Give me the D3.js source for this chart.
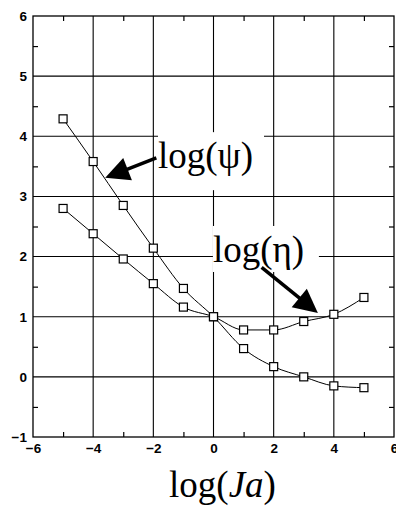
<!DOCTYPE html>
<html><head><meta charset="utf-8">
<script src="https://cdn.jsdelivr.net/npm/d3@7"></script>
<style>body{margin:0;background:#fff}svg{display:block}</style>
</head><body>
<script>
const xVals = [-5,-4,-3,-2,-1,0,1,2,3,4,5];
const psiVals = [4.29,3.58,2.85,2.14,1.47,1.0,0.47,0.17,0.0,-0.15,-0.18];
const etaVals = [2.8,2.38,1.96,1.55,1.16,1.0,0.78,0.78,0.92,1.04,1.32];
const xTicks = [-6,-4,-2,0,2,4,6];
const yTicks = [-1,0,1,2,3,4,5,6];
const xMinor = [-5,-3,-1,1,3,5];
const yMinor = [-0.5,0.5,1.5,2.5,3.5,4.5,5.5];
const labels = [
  {text:"log(ψ)", x:-1.845, y:3.47, tail:[-1.9,3.64], tip:[-3.6,3.31]},
  {text:"log(η)", x:-0.02, y:1.91, tail:[1.6,1.82], tip:[3.47,1.06]}
];

const W=396,H=517, L=33,R=394,T=16,B=437;
const svg=d3.select("body").append("svg").attr("width",W).attr("height",H);
const x=d3.scaleLinear().domain([-6,6]).range([L,R]);
const y=d3.scaleLinear().domain([-1,6]).range([B,T]);

// grid
const g=svg.append("g").attr("stroke","#000").attr("stroke-width",1.1);
g.selectAll(".vg").data(xTicks.slice(1,-1)).join("line")
  .attr("x1",d=>x(d)).attr("x2",d=>x(d)).attr("y1",T).attr("y2",B);
g.selectAll(".hg").data(yTicks.slice(1,-1)).join("line")
  .attr("y1",d=>y(d)).attr("y2",d=>y(d)).attr("x1",L).attr("x2",R);

// minor ticks
const tf="bold 13.5px 'Liberation Sans', Arial, sans-serif";
svg.append("g").attr("transform",`translate(0,${B})`)
  .call(d3.axisBottom(x).tickValues(xMinor).tickSize(-5).tickFormat(""))
  .call(a=>a.select(".domain").remove());
svg.append("g").attr("transform",`translate(0,${T})`)
  .call(d3.axisTop(x).tickValues(xMinor).tickSize(-5).tickFormat(""))
  .call(a=>a.select(".domain").remove());
svg.append("g").attr("transform",`translate(${L},0)`)
  .call(d3.axisLeft(y).tickValues(yMinor).tickSize(-5).tickFormat(""))
  .call(a=>a.select(".domain").remove());
svg.append("g").attr("transform",`translate(${R},0)`)
  .call(d3.axisRight(y).tickValues(yMinor).tickSize(-5).tickFormat(""))
  .call(a=>a.select(".domain").remove());
// labeled axes
svg.append("g").attr("transform",`translate(0,${B})`)
  .call(d3.axisBottom(x).tickValues(xTicks).tickSize(0).tickPadding(6).tickFormat(d3.format("d")))
  .call(a=>{a.select(".domain").remove();a.selectAll("text").style("font",tf).attr("fill","#000");});
svg.append("g").attr("transform",`translate(${L},0)`)
  .call(d3.axisLeft(y).tickValues(yTicks).tickSize(0).tickPadding(6).tickFormat(d3.format("d")))
  .call(a=>{a.select(".domain").remove();a.selectAll("text").style("font",tf).attr("fill","#000");});
svg.selectAll(".tick line").attr("stroke","#000").attr("stroke-width",1.2);

// frame
svg.append("rect").attr("x",L).attr("y",T).attr("width",R-L).attr("height",B-T)
  .attr("fill","none").attr("stroke","#000").attr("stroke-width",1.3);

// label boxes
const lf="'Liberation Serif','Times New Roman',serif";
const fs=37;
labels.forEach(l=>{
  svg.append("rect").attr("x",x(l.x)).attr("y",y(l.y)-36).attr("width",106).attr("height",l.y>3?58:46).attr("fill","#fff");
});

// curves
const line=d3.line().x((d,i)=>x(xVals[i])).y(d=>y(d)).curve(d3.curveMonotoneX);
[psiVals,etaVals].forEach(s=>{
  svg.append("path").attr("d",line(s)).attr("fill","none").attr("stroke","#000").attr("stroke-width",1);
  svg.append("g").selectAll("rect").data(s).join("rect")
    .attr("x",(d,i)=>x(xVals[i])-4).attr("y",d=>y(d)-4).attr("width",8).attr("height",8)
    .attr("fill","#fff").attr("stroke","#000").attr("stroke-width",1.2);
});

labels.forEach(l=>{
  svg.append("text").attr("x",x(l.x)).attr("y",y(l.y)).text(l.text)
    .attr("font-family",lf).attr("font-size",fs);
  const [tx,ty]=[x(l.tail[0]),y(l.tail[1])],[px,py]=[x(l.tip[0]),y(l.tip[1])];
  const dx=px-tx,dy=py-ty,len=Math.hypot(dx,dy),ux=dx/len,uy=dy/len;
  const hl=24,hw=12;
  const bx=px-ux*hl,by=py-uy*hl;
  svg.append("line").attr("x1",tx).attr("y1",ty).attr("x2",bx+ux*2).attr("y2",by+uy*2)
    .attr("stroke","#000").attr("stroke-width",3.5);
  svg.append("polygon").attr("points",[[px,py],[bx-uy*hw,by+ux*hw],[bx+uy*hw,by-ux*hw]].map(p=>p.join(",")).join(" "))
    .attr("fill","#000");
});

// x axis title
const tt=svg.append("text").attr("x",x(0)+9).attr("y",497).attr("text-anchor","middle")
  .attr("font-family",lf).attr("font-size",fs);
tt.append("tspan").text("log(");
tt.append("tspan").attr("font-style","italic").text("Ja");
tt.append("tspan").text(")");
</script>
</body></html>
